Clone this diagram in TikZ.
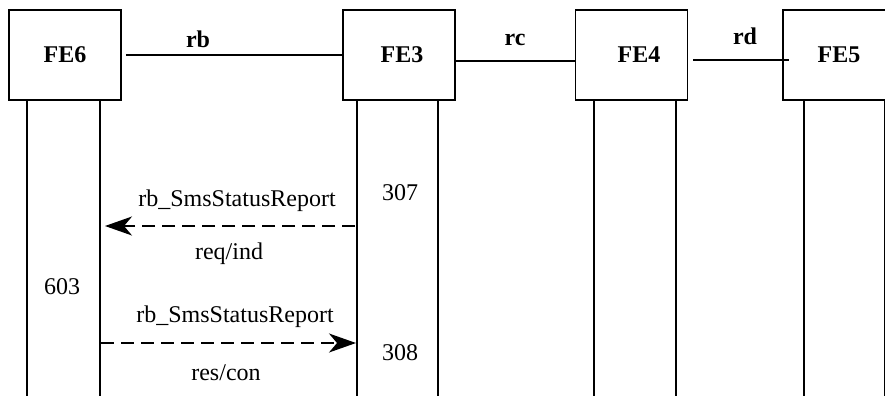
\documentclass[tikz,border=0pt]{standalone}
\usepackage{fontspec}
\setmainfont{Liberation Serif}
\usetikzlibrary{arrows.meta}

\begin{document}
\begin{tikzpicture}[x=1pt,y=-1pt,
	fe/.style={draw, line width=1.6pt, minimum width=112pt, minimum height=90pt, inner sep=0pt, font=\fontsize{24}{28}\selectfont\bfseries},
	life/.style={line width=1.5pt},
	link/.style={line width=1.6pt},
	msg/.style={line width=1.6pt, dash pattern=on 13pt off 7pt, -{Stealth[length=27pt,width=19pt,inset=8pt]}},
	txt/.style={font=\fontsize{24}{28}\selectfont},
	btxt/.style={font=\fontsize{24}{28}\selectfont\bfseries}]

	\useasboundingbox (0,0) rectangle (885,396);
	\clip (0,0) rectangle (885,396);

	% Entities
	\node[fe] (fe6) at (65,55) {FE6};
	\node[fe] (fe3) at (399,55) {\hspace*{6pt}FE3};
	\node[fe] (fe4) at (631.5,55) {\hspace*{15pt}FE4};
	\node[fe] (fe5) at (839,55) {FE5};

	% Reference points
	\draw[link, shorten <=4pt] (fe6.east) -- (fe3.west);
	\draw[link] ([yshift=-6pt]fe3.east) -- ([yshift=-6pt]fe4.west);
	\draw[link, shorten <=5pt, shorten >=-7pt] ([yshift=-5pt]fe4.east) -- ([yshift=-5pt]fe5.west);

	\node[btxt] (rb) at (198,39) {rb};
	\node[btxt] (rc) at (515,40) {rc};
	\node[btxt] (rd) at (745,36) {rd};

	% Lifelines
	\draw[life] (27,100) -- (27,396);
	\draw[life] (100,100) -- (100,396);
	\draw[life] (357,100) -- (357,396);
	\draw[life] (438,100) -- (438,396);
	\draw[life] (594,100) -- (594,396);
	\draw[life] (676,100) -- (676,396);
	\draw[life] (804,100) -- (804,396);
	\draw[life] (884.5,100) -- (884.5,396);

	% Messages
	\coordinate (req s) at (355,226);
	\coordinate (req t) at (105,226);
	\coordinate (res s) at (101,343);
	\coordinate (res t) at (356,343);

	\draw[msg] (req s) -- (req t);
	\draw[msg] (res s) -- (res t);

	\node[txt] (req top) at (237,201) {rb\_SmsStatusReport};
	\node[txt] (req bot) at (229,254) {req/ind};
	\node[txt] (res top) at (235,317) {rb\_SmsStatusReport};
	\node[txt] (res bot) at (226,373) {res/con};

	% Labels
	\node[txt] (n307) at (400,193) {307};
	\node[txt] (n308) at (400,353) {308};
	\node[txt] (n603) at (62,287) {603};

\end{tikzpicture}
\end{document}
